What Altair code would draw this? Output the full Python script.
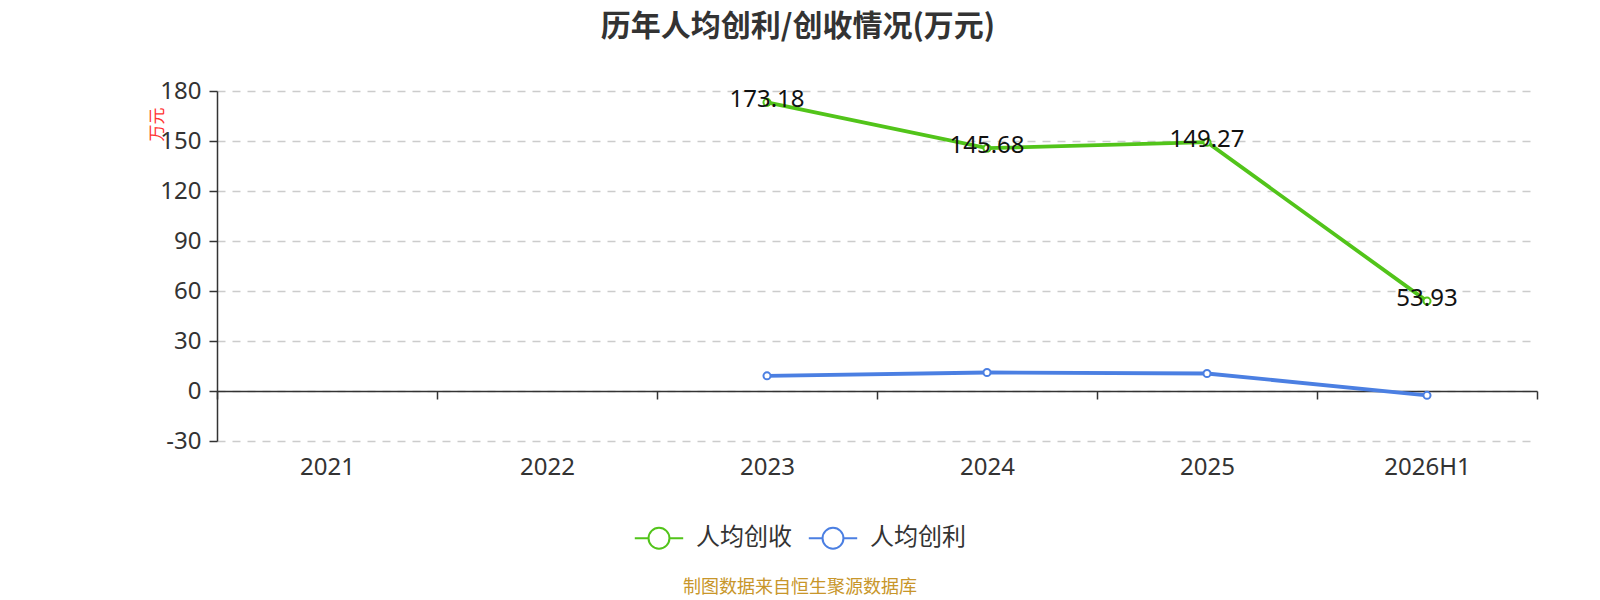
import altair as alt
import pandas as pd

categories = ["2021", "2022", "2023", "2024", "2025", "2026H1"]
revenue_cats = ["2023", "2024", "2025", "2026H1"]
revenue_vals = [173.18, 145.68, 149.27, 53.93]
profit_cats = ["2023", "2024", "2025", "2026H1"]
profit_vals = [9.1, 11.1, 10.5, -2.6]
series_names = ["人均创收", "人均创利"]
series_colors = ["#52c41a", "#4b7fe2"]
y_ticks = [-30, 0, 30, 60, 90, 120, 150, 180]

df = pd.concat([
    pd.DataFrame({"year": revenue_cats, "value": revenue_vals, "series": series_names[0]}),
    pd.DataFrame({"year": profit_cats, "value": profit_vals, "series": series_names[1]}),
])
df["label"] = df["value"].map(lambda v: f"{v:.2f}")

CJK = "Noto Sans CJK SC"
NUM = "Noto Sans"

x = alt.X("year:N", sort=categories, scale=alt.Scale(domain=categories, paddingInner=0, paddingOuter=0),
          axis=alt.Axis(title=None, offset=-50, tickBand="extent", labelAngle=0,
                        labelFont=NUM, labelFontSize=24, labelColor="#333",
                        tickSize=8, tickColor="#333", tickWidth=1.5,
                        domainColor="#333", domainWidth=1.5, labelPadding=56,
                        labelBaseline="top", grid=False))
y = alt.Y("value:Q", scale=alt.Scale(domain=[-30, 180], nice=False, zero=False),
          axis=alt.Axis(values=y_ticks, labelExpr="'' + datum.value",
                        title="万元", titleColor="#ff3333", titleFont=CJK,
                        titleFontSize=17, titleFontWeight="normal", titleAngle=-90,
                        titleX=-60, titleY=33, titleAlign="center", titleBaseline="middle",
                        labelFont=NUM, labelFontSize=24, labelColor="#333",
                        tickSize=8, tickColor="#333", tickWidth=1.5, labelPadding=8,
                        domainColor="#333", domainWidth=1.5,
                        grid=True, gridColor="#cccccc", gridDash=[8, 7], gridWidth=1.3))
color_scale = alt.Scale(domain=series_names, range=series_colors)

legend_path = ("M-2.2,0L-0.95,0M0.95,0L2.2,0M0.95,0A0.95,0.95,0,1,1,-0.95,0"
               "A0.95,0.95,0,1,1,0.95,0Z")

base = alt.Chart(df)

lines = base.mark_line(strokeWidth=3.8).encode(
    x=x, y=y,
    color=alt.Color("series:N", scale=color_scale, sort=series_names,
                    legend=alt.Legend(title=None, orient="none", direction="horizontal",
                                      legendX=430, legendY=435, symbolType=legend_path,
                                      symbolSize=484, symbolStrokeWidth=2,
                                      symbolFillColor="white", labelFont=CJK,
                                      labelFontSize=24, labelColor="#333",
                                      labelOffset=25, columnPadding=12, padding=0)),
)
points = base.mark_point(filled=False, fill="white", size=50, strokeWidth=2, opacity=1).encode(
    x=x, y=y,
    color=alt.Color("series:N", scale=color_scale, legend=None),
)
labels = base.transform_filter(alt.datum.series == series_names[0]).mark_text(
    font=NUM, fontSize=24, color="#111", baseline="middle", dy=-2
).encode(x=x, y=y, text="label:N")

footer = alt.Chart(pd.DataFrame({"t": ["制图数据来自恒生聚源数据库"]})).mark_text(
    font=CJK, fontSize=18, color="#c8962a", baseline="middle", align="center"
).encode(x=alt.value(583), y=alt.value(497), text="t:N")

chart = alt.layer(lines, points, labels, footer).resolve_legend(color="independent").properties(
    width=1320, height=350,
    title=alt.TitleParams("历年人均创利/创收情况(万元)", font=CJK, fontSize=30, fontWeight="bold",
                          color="#333", anchor="middle", dx=-79, offset=37),
    autosize=alt.AutoSizeParams(type="none"),
    padding={"left": 209, "top": 83, "right": 55, "bottom": 158},
).configure_view(stroke=None)

chart.save("out.html", embed_options={"renderer": "svg", "actions": False})
